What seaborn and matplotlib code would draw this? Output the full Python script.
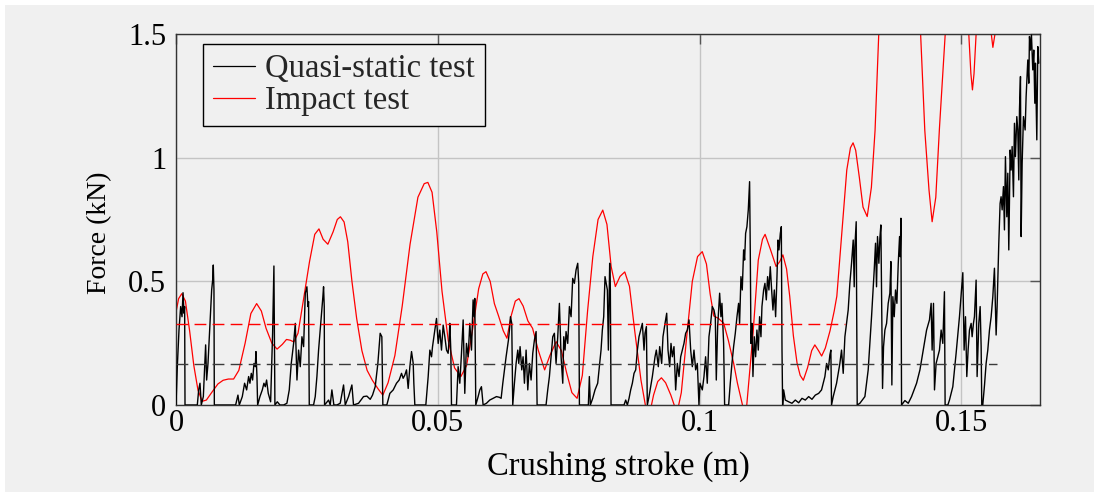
import matplotlib
matplotlib.use("Agg")
import matplotlib.pyplot as plt
import seaborn as sns
import pandas as pd
from matplotlib.patches import Rectangle

# ---------------- data ----------------
quasi_stroke = [
    0.0000, 0.00025, 0.00057, 0.00089, 0.00115, 0.00134, 0.00153, 0.00165, 0.00172, 0.00407,
    0.00433, 0.00458, 0.00483, 0.00522, 0.00566, 0.00585, 0.00611, 0.00636, 0.00662, 0.00681,
    0.00700, 0.00712, 0.00725, 0.00732, 0.01139, 0.01183, 0.01209, 0.01266, 0.01310, 0.01349,
    0.01387, 0.01412, 0.01438, 0.01463, 0.01489, 0.01514, 0.01527, 0.01546, 0.01559, 0.01603,
    0.01648, 0.01679, 0.01705, 0.01730, 0.01762, 0.01807, 0.01845, 0.01870, 0.01889, 0.01934,
    0.01985,
    0.02055, 0.02118, 0.02163, 0.02201, 0.02246, 0.02278, 0.02310, 0.02341, 0.02373, 0.02405,
    0.02437, 0.02469, 0.02500, 0.02519, 0.02532, 0.02545, 0.02627, 0.02659, 0.02691, 0.02723,
    0.02754, 0.02786, 0.02805, 0.02818, 0.02831, 0.02837, 0.02914, 0.02945, 0.02977, 0.03015,
    0.03072, 0.03136, 0.03200, 0.03232, 0.03295, 0.03359, 0.03390, 0.03486, 0.03581, 0.03645,
    0.03709, 0.03753, 0.03804, 0.03855, 0.03899, 0.03931, 0.03950, 0.04026,
    0.04084, 0.04148, 0.04211, 0.04262, 0.04307, 0.04338, 0.04370, 0.04402, 0.04434, 0.04466,
    0.04498, 0.04530, 0.04542, 0.04561, 0.04771, 0.04816, 0.04848, 0.04880, 0.04899, 0.04924,
    0.04943, 0.04975, 0.05007, 0.05038, 0.05070, 0.05102, 0.05134, 0.05166, 0.05197, 0.05216,
    0.05229, 0.05248, 0.05261, 0.05356, 0.05388, 0.05420, 0.05452, 0.05484, 0.05515, 0.05547,
    0.05579, 0.05611, 0.05643, 0.05674, 0.05693, 0.05706, 0.05725, 0.05770, 0.05802, 0.05833,
    0.05865, 0.05929, 0.05992, 0.06056, 0.06120,
    0.06177, 0.06209, 0.06241, 0.06272, 0.06304, 0.06349, 0.06374, 0.06387, 0.06412, 0.06431,
    0.06463, 0.06495, 0.06527, 0.06546, 0.06571, 0.06603, 0.06628, 0.06654, 0.06686, 0.06718,
    0.06749, 0.06781, 0.06813, 0.06845, 0.06877, 0.06896, 0.07067, 0.07099, 0.07131, 0.07163,
    0.07195, 0.07226, 0.07258, 0.07290, 0.07322, 0.07354, 0.07386, 0.07405, 0.07430, 0.07449,
    0.07481, 0.07513, 0.07545, 0.07576, 0.07608, 0.07640, 0.07672, 0.07691, 0.07704, 0.07875,
    0.07894, 0.07913, 0.07958, 0.08002, 0.08053, 0.08085, 0.08117, 0.08142, 0.08168, 0.08193,
    0.08238, 0.08257, 0.08282, 0.08295, 0.08308, 0.08556, 0.08588, 0.08620, 0.08652, 0.08683,
    0.08715, 0.08747, 0.08779, 0.08811, 0.08842, 0.08874, 0.08906, 0.08938, 0.08957, 0.08983,
    0.09001, 0.09033, 0.09097, 0.09148, 0.09173, 0.09211, 0.09237, 0.09275, 0.09300, 0.09339,
    0.09371, 0.09396, 0.09428, 0.09453, 0.09479, 0.09510, 0.09542, 0.09574, 0.09606, 0.09638,
    0.09670, 0.09701, 0.09733, 0.09765, 0.09797, 0.09829, 0.09860, 0.09892, 0.09924, 0.09956,
    0.09987, 0.10006, 0.10051, 0.10083, 0.10114, 0.10146, 0.10178, 0.10210, 0.10242, 0.10274,
    0.10299, 0.10318, 0.10344, 0.10382, 0.10407, 0.10426, 0.10458, 0.10477, 0.10554, 0.10585,
    0.10617, 0.10649, 0.10681, 0.10713, 0.10744, 0.10763, 0.10789, 0.10814, 0.10840, 0.10859,
    0.10878, 0.10903, 0.10929, 0.10954, 0.10967, 0.10980, 0.10999, 0.11018, 0.11043, 0.11069,
    0.11094, 0.11120, 0.11145, 0.11171, 0.11190, 0.11222, 0.11247, 0.11273, 0.11298, 0.11323,
    0.11349, 0.11375, 0.11400, 0.11426, 0.11451, 0.11477, 0.11496, 0.11515, 0.11541, 0.11560,
    0.11573, 0.11585, 0.11604, 0.11636, 0.11700, 0.11763, 0.11827, 0.11891, 0.11954, 0.12018,
    0.12082, 0.12145, 0.12209, 0.12273,
    0.12328, 0.12392, 0.12424, 0.12456, 0.12487, 0.12506, 0.12519, 0.12551, 0.12615, 0.12678,
    0.12710, 0.12742, 0.12774, 0.12806, 0.12837, 0.12869, 0.12901, 0.12933, 0.12952, 0.12965,
    0.12990, 0.13009, 0.13060, 0.13156, 0.13219, 0.13283, 0.13334, 0.13359, 0.13378, 0.13397,
    0.13423, 0.13442, 0.13461, 0.13481, 0.13493, 0.13512, 0.13538, 0.13570, 0.13601, 0.13633,
    0.13652, 0.13671, 0.13690, 0.13716, 0.13741, 0.13767, 0.13793, 0.13818, 0.13831, 0.13844,
    0.13856, 0.13920, 0.13984, 0.14047, 0.14143, 0.14207, 0.14270, 0.14334, 0.14389,
    0.14421, 0.14440, 0.14466, 0.14485, 0.14516, 0.14548, 0.14580, 0.14612, 0.14644, 0.14675,
    0.14688, 0.14740, 0.14771, 0.14835, 0.14898, 0.14962, 0.15026, 0.15051, 0.15077, 0.15102,
    0.15127, 0.15153, 0.15185, 0.15204, 0.15229, 0.15248, 0.15280, 0.15299, 0.15331, 0.15357,
    0.15376, 0.15388, 0.15407, 0.15440, 0.15471, 0.15503, 0.15535, 0.15567, 0.15599, 0.15630,
    0.15662, 0.15681, 0.15713, 0.15738, 0.15757, 0.15777, 0.15802, 0.15821, 0.15840, 0.15866,
    0.15885, 0.15904, 0.15930, 0.15949, 0.15968, 0.15993, 0.16012, 0.16031, 0.16057, 0.16076,
    0.16095, 0.16108, 0.16127, 0.16140, 0.16159, 0.16184, 0.16216, 0.16235, 0.16267, 0.16286,
    0.16299, 0.16318, 0.16337, 0.16362, 0.16381, 0.16401, 0.16413, 0.16439, 0.16458, 0.16477,
]
quasi_force = [
    0.000, 0.155, 0.303, 0.398, 0.357, 0.454, 0.371, 0.398, 0.000, 0.000,
    0.061, 0.088, 0.000, 0.034, 0.243, 0.101, 0.168, 0.276, 0.384, 0.465,
    0.505, 0.566, 0.465, 0.000, 0.000, 0.040, 0.000, 0.034, 0.088, 0.061,
    0.115, 0.088, 0.128, 0.101, 0.168, 0.155, 0.216, 0.115, 0.000, 0.034,
    0.061, 0.088, 0.074, 0.101, 0.047, 0.013, 0.290, 0.562, 0.000, 0.013,
    0.000,
    0.000, 0.007, 0.061, 0.168, 0.249, 0.330, 0.101, 0.222, 0.155, 0.276,
    0.236, 0.452, 0.478, 0.398, 0.418, 0.000, 0.000, 0.034, 0.115, 0.222,
    0.303, 0.384, 0.438, 0.478, 0.398, 0.000, 0.020, 0.000, 0.061, 0.000,
    0.000, 0.007, 0.081, 0.000, 0.034, 0.081, 0.000, 0.007, 0.034, 0.036,
    0.023, 0.040, 0.074, 0.168, 0.290, 0.276, 0.000, 0.000,
    0.047, 0.061, 0.088, 0.101, 0.128, 0.108, 0.121, 0.142, 0.067, 0.155,
    0.216, 0.168, 0.088, 0.000, 0.000, 0.115, 0.222, 0.195, 0.236, 0.276,
    0.303, 0.350, 0.249, 0.303, 0.222, 0.323, 0.276, 0.222, 0.209, 0.263,
    0.330, 0.222, 0.000, 0.000, 0.155, 0.088, 0.209, 0.344, 0.047, 0.249,
    0.195, 0.330, 0.222, 0.425, 0.357, 0.431, 0.000, 0.034, 0.061, 0.074,
    0.000, 0.007, 0.020, 0.027, 0.034,
    0.031, 0.027, 0.088, 0.142, 0.195, 0.263, 0.317, 0.357, 0.330, 0.000,
    0.088, 0.168, 0.222, 0.168, 0.236, 0.142, 0.195, 0.088, 0.222, 0.061,
    0.168, 0.101, 0.209, 0.263, 0.297, 0.000, 0.000, 0.061, 0.115, 0.195,
    0.276, 0.290, 0.168, 0.276, 0.411, 0.195, 0.088, 0.276, 0.222, 0.297,
    0.249, 0.398, 0.357, 0.512, 0.492, 0.546, 0.573, 0.492, 0.000, 0.000,
    0.115, 0.000, 0.027, 0.061, 0.088, 0.155, 0.222, 0.303, 0.357, 0.519,
    0.465, 0.222, 0.573, 0.465, 0.000, 0.000, 0.020, 0.000, 0.027, 0.061,
    0.088, 0.128, 0.142, 0.222, 0.276, 0.303, 0.330, 0.222, 0.290, 0.317,
    0.000, 0.034, 0.115, 0.195, 0.222, 0.155, 0.236, 0.168, 0.276, 0.330,
    0.371, 0.222, 0.155, 0.249, 0.195, 0.236, 0.061, 0.168, 0.115, 0.195,
    0.222, 0.249, 0.290, 0.303, 0.344, 0.222, 0.155, 0.222, 0.142, 0.168,
    0.000, 0.088, 0.061, 0.115, 0.195, 0.088, 0.276, 0.330, 0.398, 0.384,
    0.357, 0.101, 0.317, 0.452, 0.357, 0.411, 0.249, 0.000, 0.000, 0.088,
    0.168, 0.236, 0.290, 0.357, 0.411, 0.330, 0.519, 0.465, 0.627, 0.586,
    0.694, 0.721, 0.789, 0.903, 0.627, 0.249, 0.330, 0.115, 0.276, 0.195,
    0.303, 0.222, 0.357, 0.276, 0.398, 0.465, 0.492, 0.425, 0.519, 0.465,
    0.559, 0.465, 0.384, 0.465, 0.357, 0.519, 0.667, 0.627, 0.694, 0.721,
    0.222, 0.000, 0.061, 0.020, 0.013, 0.007, 0.020, 0.009, 0.027, 0.020,
    0.034, 0.023, 0.040, 0.047,
    0.061, 0.115, 0.168, 0.142, 0.202, 0.222, 0.000, 0.034, 0.088, 0.168,
    0.222, 0.128, 0.276, 0.330, 0.384, 0.492, 0.573, 0.667, 0.478, 0.640,
    0.741, 0.000, 0.007, 0.034, 0.142, 0.357, 0.546, 0.654, 0.478, 0.681,
    0.573, 0.674, 0.728, 0.303, 0.067, 0.236, 0.303, 0.330, 0.411, 0.452,
    0.580, 0.081, 0.438, 0.357, 0.465, 0.411, 0.573, 0.681, 0.600, 0.755,
    0.000, 0.018, 0.007, 0.034, 0.088, 0.142, 0.222, 0.303, 0.344,
    0.411, 0.222, 0.411, 0.061, 0.168, 0.195, 0.222, 0.303, 0.249, 0.458,
    0.000, 0.000, 0.020, 0.074, 0.209, 0.357, 0.535, 0.222, 0.357, 0.115,
    0.222, 0.303, 0.330, 0.276, 0.330, 0.357, 0.505, 0.115, 0.330, 0.398,
    0.236, 0.000, 0.000, 0.080, 0.168, 0.222, 0.303, 0.357, 0.438, 0.553,
    0.283, 0.398, 0.654, 0.815, 0.842, 0.789, 0.883, 0.708, 1.004, 0.761,
    0.937, 0.627, 1.031, 0.950, 1.045, 0.842, 1.139, 1.004, 1.166, 1.112,
    0.910, 1.193, 1.328, 0.681, 0.977, 1.166, 1.112, 1.247, 1.395, 1.301,
    1.490, 1.435, 1.496, 1.355, 1.435, 1.220, 1.382, 1.072, 1.449, 1.382,
]

impact_stroke = [
    0.0000, 0.0005, 0.0011, 0.0018, 0.0026, 0.0034, 0.0042, 0.0050, 0.0058, 0.0068,
    0.0080, 0.0090, 0.0100, 0.0110, 0.0120, 0.0132, 0.0143, 0.0154, 0.0163, 0.0172,
    0.0183, 0.0193, 0.0203, 0.0211, 0.0218, 0.0225, 0.0233, 0.0243, 0.0255, 0.0265,
    0.0273, 0.0281, 0.0290, 0.0300, 0.0308, 0.0314, 0.0321, 0.0328, 0.0336, 0.0345,
    0.0355, 0.0365, 0.0375, 0.0386, 0.0395, 0.0405, 0.0418, 0.0432, 0.0447, 0.0462,
    0.0474, 0.0481, 0.0489, 0.0498, 0.0508, 0.0520, 0.0532, 0.0544, 0.0555, 0.0566,
    0.0578, 0.0586, 0.0592, 0.0600, 0.0608, 0.0616, 0.0625, 0.0632, 0.0640, 0.0648,
    0.0655, 0.0663, 0.0672, 0.0681, 0.0692, 0.0704, 0.0714, 0.0726, 0.0736, 0.0746,
    0.0756, 0.0766, 0.0776, 0.0786, 0.0796, 0.0806, 0.0815, 0.0823, 0.0831, 0.0839,
    0.0848, 0.0857, 0.0866, 0.0876, 0.0888, 0.0898, 0.0904, 0.0912, 0.0920, 0.0927,
    0.0935, 0.0945, 0.0953, 0.0958, 0.0965, 0.0975, 0.0986, 0.0996, 0.1005, 0.1013,
    0.1020, 0.1027, 0.1036, 0.1046, 0.1055, 0.1065, 0.1072, 0.1078, 0.1084, 0.1090,
    0.1102, 0.1112, 0.1120, 0.1125, 0.1135, 0.1146, 0.1153, 0.1159, 0.1166, 0.1172,
    0.1179, 0.1186, 0.1192, 0.1198, 0.1206, 0.1214, 0.1220, 0.1227, 0.1233, 0.1240,
    0.1249, 0.1257, 0.1262, 0.1271, 0.1281, 0.1288, 0.1293, 0.1298, 0.1305, 0.1312,
    0.1320, 0.1328, 0.1335, 0.1342, 0.1355, 0.1382, 0.1407, 0.1422, 0.1430, 0.1438,
    0.1444, 0.1451, 0.1458, 0.1469, 0.1482, 0.1497, 0.1509, 0.1514, 0.1518, 0.1521,
    0.1524, 0.1528, 0.1540, 0.1552, 0.1557, 0.1560, 0.1564, 0.1580, 0.1615, 0.1650,
]
impact_force = [
    0.375, 0.430, 0.450, 0.420, 0.300, 0.160, 0.060, 0.015, 0.020, 0.050,
    0.085, 0.100, 0.105, 0.105, 0.140, 0.250, 0.370, 0.410, 0.380, 0.310,
    0.250, 0.226, 0.245, 0.265, 0.262, 0.255, 0.290, 0.420, 0.580, 0.690,
    0.712, 0.670, 0.650, 0.700, 0.750, 0.761, 0.740, 0.660, 0.500, 0.350,
    0.220, 0.140, 0.100, 0.065, 0.040, 0.090, 0.200, 0.400, 0.650, 0.840,
    0.895, 0.900, 0.860, 0.700, 0.460, 0.260, 0.150, 0.115, 0.160, 0.300,
    0.470, 0.530, 0.539, 0.500, 0.410, 0.360, 0.300, 0.270, 0.360, 0.420,
    0.430, 0.400, 0.340, 0.310, 0.220, 0.142, 0.200, 0.256, 0.220, 0.130,
    0.050, 0.027, 0.120, 0.380, 0.600, 0.750, 0.788, 0.730, 0.560, 0.479,
    0.520, 0.538, 0.480, 0.300, 0.100, -0.020, -0.040, 0.040, 0.095, 0.110,
    0.090, 0.040, -0.010, -0.020, 0.050, 0.270, 0.500, 0.600, 0.620, 0.570,
    0.450, 0.360, 0.350, 0.330, 0.260, 0.168, 0.090, 0.034, -0.020, 0.000,
    0.290, 0.586, 0.670, 0.690, 0.630, 0.560, 0.580, 0.607, 0.550, 0.440,
    0.280, 0.170, 0.120, 0.100, 0.150, 0.220, 0.243, 0.220, 0.198, 0.230,
    0.300, 0.380, 0.440, 0.680, 0.950, 1.040, 1.060, 1.030, 0.920, 0.800,
    0.762, 0.880, 1.110, 1.500, 2.200, 3.000, 2.200, 1.500, 1.110, 0.870,
    0.741, 0.840, 1.120, 1.500, 1.950, 2.050, 1.800, 1.500, 1.340, 1.274,
    1.340, 1.500, 1.750, 1.620, 1.500, 1.446, 1.500, 1.900, 2.300, 2.400,
]

quasi_mean = 0.166
quasi_mean_end = 0.1567
impact_mean = 0.327
impact_mean_end = 0.1277

series_labels = ["Quasi-static test", "Impact test"]
x_ticks = [0, 0.05, 0.1, 0.15]
x_tick_labels = ["0", "0.05", "0.1", "0.15"]
y_ticks = [0, 0.5, 1, 1.5]
y_tick_labels = ["0", "0.5", "1", "1.5"]
x_label = "Crushing stroke (m)"
y_label = "Force (kN)"

# ---------------- style ----------------
sns.set_theme(style="white")
plt.rcParams['font.family'] = ['Liberation Serif', 'DejaVu Serif']

BG = '#f0f0f0'
W, H = 1102, 497
fig = plt.figure(figsize=(W / 100, H / 100), dpi=100, facecolor='white')
fig.patches.append(Rectangle((5 / W, 5 / H), (W - 13) / W, (H - 10) / H,
                             transform=fig.transFigure, facecolor=BG,
                             edgecolor='none', zorder=-10))
ax = fig.add_axes([176 / W, 1 - 405 / H, 864 / W, 371 / H])
ax.set_facecolor(BG)

quasi_df = pd.DataFrame({"stroke": quasi_stroke, "force": quasi_force})
impact_df = pd.DataFrame({"stroke": impact_stroke, "force": impact_force})

sns.lineplot(data=quasi_df, x="stroke", y="force", ax=ax, color='black', lw=1.0,
             estimator=None, sort=False, label=series_labels[0], zorder=3)
sns.lineplot(data=impact_df, x="stroke", y="force", ax=ax, color='#ff0000', lw=0.9,
             estimator=None, sort=False, label=series_labels[1], zorder=2)

ax.hlines(impact_mean, 0, impact_mean_end, colors='#ff0000', linestyles=(0, (8.5, 4.5)),
          lw=1.0, zorder=4)
ax.hlines(quasi_mean, 0, quasi_mean_end, colors='#3a3a3a', linestyles=(0, (8.5, 4.5)),
          lw=1.0, zorder=4)

ax.set_xlim(0, 0.165)
ax.set_ylim(0, 1.5)
ax.set_xticks(x_ticks)
ax.set_xticklabels(x_tick_labels)
ax.set_yticks(y_ticks)
ax.set_yticklabels(y_tick_labels)

ax.grid(True, color='#c4c4c4', lw=1.0, zorder=0)
ax.set_axisbelow(True)
for s in ax.spines.values():
    s.set_color('#333333')
    s.set_linewidth(1.0)
    s.set_visible(True)

ax.tick_params(axis='both', which='both', direction='in', top=True, right=True,
               length=7, width=1.0, color='#555555', labelsize=22, labelcolor='black')
ax.tick_params(axis='x', pad=3)
ax.tick_params(axis='y', pad=7)

ax.set_xlabel(x_label, fontsize=23.5, color='black', va='top')
ax.xaxis.set_label_coords((618 - 176) / 864, (405 - 451) / 371)
ax.set_ylabel(y_label, fontsize=20, color='black', va='center')
ax.yaxis.set_label_coords((100 - 176) / 864, (405 - 233) / 371)

leg = ax.legend(loc='upper left', bbox_to_anchor=(27 / 864, 1 - 10 / 371),
                borderaxespad=0, frameon=True, fancybox=False, framealpha=1,
                facecolor=BG, edgecolor='black', fontsize=23.5,
                handlelength=1.3, handletextpad=0.3, borderpad=0.3,
                labelspacing=0.05)
leg.get_frame().set_linewidth(1.0)
for line in leg.get_lines():
    line.set_linewidth(0.9)

fig.savefig("out.png", dpi=100, facecolor=fig.get_facecolor())
